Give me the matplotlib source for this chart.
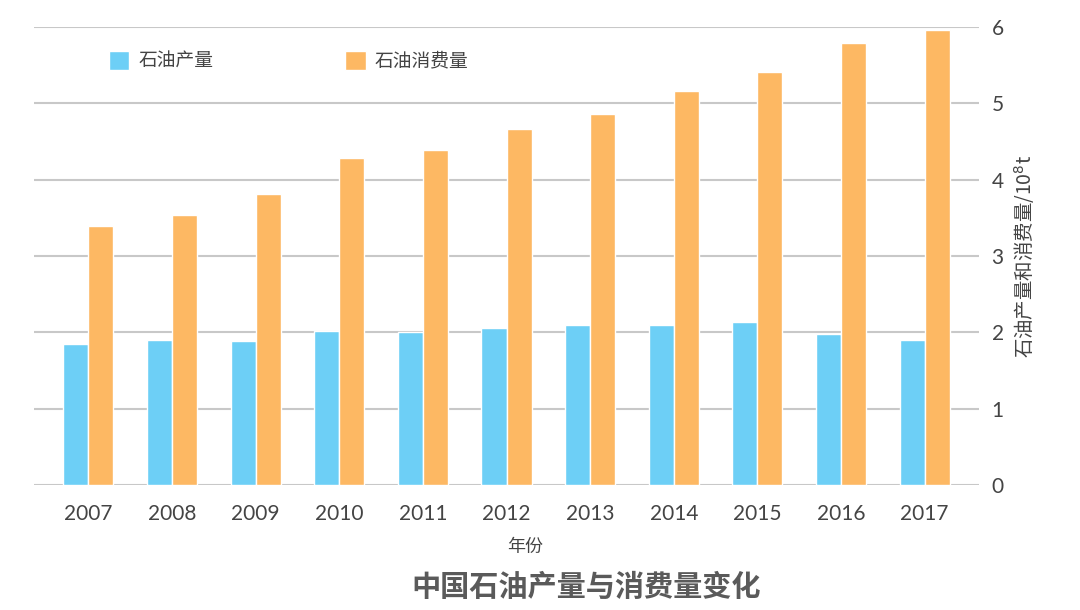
import matplotlib
matplotlib.use("Agg")
import matplotlib.pyplot as plt
import numpy as np

plt.rcParams['font.family'] = ['Noto Sans CJK SC', 'DejaVu Sans']

years = ["2007", "2008", "2009", "2010", "2011", "2012", "2013", "2014", "2015", "2016", "2017"]
production = [1.85, 1.90, 1.88, 2.02, 2.01, 2.06, 2.09, 2.10, 2.13, 1.98, 1.90]
consumption = [3.39, 3.54, 3.81, 4.28, 4.39, 4.67, 4.86, 5.16, 5.41, 5.79, 5.96]
yticks = [0, 1, 2, 3, 4, 5, 6]

blue = "#6dcff6"
orange = "#fdb863"
txt = "#444444"

fig = plt.figure(figsize=(10.8, 6.1), dpi=100)
ax = fig.add_axes([0.0315, 0.205, 0.875, 0.7507])

x = np.arange(len(years))
w = 0.3
ax.bar(x - w / 2, production, w, color=blue, edgecolor="white", linewidth=1, label="石油产量", zorder=3)
ax.bar(x + w / 2, consumption, w, color=orange, edgecolor="white", linewidth=1, label="石油消费量", zorder=3)

ax.set_xlim(-0.65, len(years) - 1 + 0.65)
ax.set_ylim(0, 6)
ax.set_yticks(yticks)
ax.yaxis.tick_right()
ax.yaxis.set_label_position("right")
ax.grid(axis="y", color="#c8c8c8", linewidth=1.5, zorder=0)
for s in ax.spines.values():
    s.set_visible(False)
ax.tick_params(axis="both", length=0)
ax.tick_params(axis="y", pad=9)
ax.tick_params(axis="x", pad=14)
ax.set_xticks(x)
ax.set_xticklabels(years)
for lab in ax.get_xticklabels() + ax.get_yticklabels():
    lab.set_family(["Lato", "DejaVu Sans"])
    lab.set_fontsize(15)
    lab.set_color(txt)

ax.set_ylabel("石油产量和消费量/10$^{8}$t", fontsize=14, color=txt, labelpad=6)

leg = ax.legend(loc="center left", bbox_to_anchor=(0.085, 0.9), bbox_transform=fig.transFigure,
                ncol=2, frameon=False, fontsize=13.5, handlelength=1.1, handleheight=1.2,
                handletextpad=0.5, columnspacing=7.0)
for t in leg.get_texts():
    t.set_color(txt)

fig.text(0.486, 0.104, "年份", fontsize=13, color=txt, ha="center", va="center")
fig.text(0.543, 0.038, "中国石油产量与消费量变化", fontsize=21, color="#5a5a5a",
         ha="center", va="center", fontweight="bold")

fig.savefig("out.png", dpi=100)
